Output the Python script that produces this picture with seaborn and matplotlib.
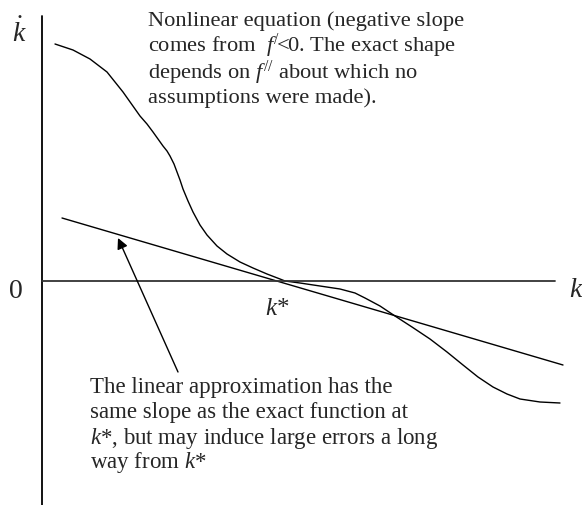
import matplotlib
matplotlib.use("Agg")
import matplotlib.pyplot as plt
import seaborn as sns
import pandas as pd

sns.set_style("white")
plt.rcParams["font.family"] = ["Liberation Serif", "DejaVu Serif"]
plt.rcParams["mathtext.fontset"] = "custom"
plt.rcParams["mathtext.rm"] = "Liberation Serif"
plt.rcParams["mathtext.it"] = "Liberation Serif:italic"

# Exact (nonlinear) phase line: k against k-dot
k_exact = [0.13, 0.31, 0.48, 0.65, 0.81, 0.98, 1.05, 1.11, 1.16, 1.21, 1.25,
           1.28, 1.32, 1.35, 1.38, 1.41, 1.46, 1.51, 1.58, 1.65, 1.75, 1.85,
           1.98, 2.11, 2.25, 2.38, 2.43, 2.58, 2.78, 2.98, 3.13, 3.23, 3.38,
           3.53, 3.70, 3.88, 4.05, 4.21, 4.36, 4.51, 4.65, 4.78, 4.98, 5.18]
kdot_exact = [2.37, 2.31, 2.22, 2.09, 1.89, 1.65, 1.57, 1.49, 1.42, 1.35, 1.30,
              1.25, 1.17, 1.09, 1.01, 0.92, 0.80, 0.69, 0.56, 0.46, 0.35, 0.27,
              0.19, 0.13, 0.07, 0.02, 0.00, -0.02, -0.05, -0.08, -0.12, -0.17, -0.25,
              -0.35, -0.46, -0.58, -0.71, -0.84, -0.96, -1.06, -1.13, -1.18, -1.21, -1.22]

# Linear approximation around the steady state k*
k_linear = [0.20, 5.21]
kdot_linear = [0.63, -0.84]
k_star = 2.43

exact = pd.DataFrame({"k": k_exact, "kdot": kdot_exact})
linear = pd.DataFrame({"k": k_linear, "kdot": kdot_linear})

fig = plt.figure(figsize=(5.82, 5.06), dpi=100)
ax = fig.add_axes([0, 0, 1, 1])
ax.set_xlim(-0.42, 5.40)
ax.set_ylim(-2.24, 2.82)

sns.lineplot(data=exact, x="k", y="kdot", sort=False, color="black", lw=1.0,
             solid_joinstyle="round", ax=ax)
sns.lineplot(data=linear, x="k", y="kdot", sort=False, color="black", lw=1.0, ax=ax)

# Axes drawn through the origin
ax.plot([0, 0], [-2.24, 2.65], color="black", lw=1.3)
ax.plot([0, 5.13], [0, 0], color="#333333", lw=1.3)
for s in ax.spines.values():
    s.set_visible(False)
ax.set_xticks([])
ax.set_yticks([])
ax.set_xlabel("")
ax.set_ylabel("")

ax.text(-0.23, 2.40, r"$\dot{k}$", fontsize=20, ha="center", va="baseline")
ax.text(-0.26, -0.16, "0", fontsize=20, ha="center", va="baseline")
ax.text(5.34, -0.15, r"$k$", fontsize=20, ha="center", va="baseline")
ax.text(k_star - 0.08, -0.33, r"$k$*", fontsize=18, ha="center", va="baseline")

top_lines = ["Nonlinear equation (negative slope",
             r"comes from  $f^{/}\!\!<\!\!\mathit{0}$. The exact shape",
             "depends on $f^{//}$ about which no",
             "assumptions were made)."]
top_baselines = [2.56, 2.30, 2.03, 1.79]
for line, yb in zip(top_lines, top_baselines):
    ax.text(1.06, yb, line, fontsize=16.2, ha="left", va="baseline")

bottom_lines = ["The linear approximation has the",
                "same slope as the exact function at",
                "$k$*, but may induce large errors a long",
                "way from $k$*"]
bottom_baselines = [-1.11, -1.36, -1.62, -1.86]
for line, yb in zip(bottom_lines, bottom_baselines):
    ax.text(0.48, yb, line, fontsize=16.5, ha="left", va="baseline")

ax.annotate("", xy=(0.76, 0.43), xytext=(1.36, -0.91),
            arrowprops=dict(arrowstyle="-|>", color="black", lw=1.0,
                            mutation_scale=16, shrinkA=0, shrinkB=0))

fig.savefig("out.png", dpi=100)
